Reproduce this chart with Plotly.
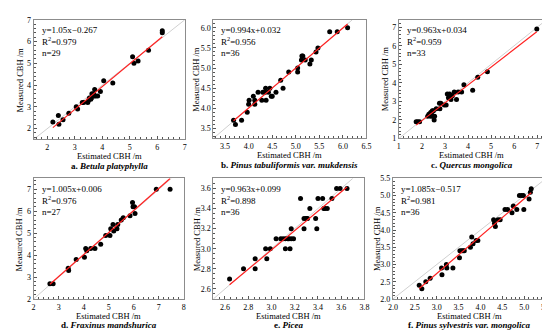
import plotly.graph_objects as go

# ---------------- data ----------------
a_est = [2.2, 2.4, 2.42, 2.57, 2.78, 3.05, 3.1, 3.27, 3.32, 3.47, 3.5, 3.53, 3.58, 3.6, 3.62,
         3.68, 3.7, 3.72, 3.76, 3.83, 3.93, 4.05, 4.38, 5.1, 5.15, 5.3, 5.68, 6.18, 6.18]
a_meas = [2.3, 2.6, 2.2, 2.4, 2.7, 3.0, 2.9, 3.2, 3.2, 3.2, 3.3, 3.4, 3.35, 3.4, 3.6,
          3.6, 3.5, 3.8, 3.5, 3.5, 3.7, 4.2, 4.1, 5.3, 5.0, 5.1, 5.6, 6.5, 6.4]

b_est = [3.68, 3.72, 3.85, 3.97, 4.0, 4.01, 4.1, 4.13, 4.13, 4.2, 4.28, 4.3, 4.35, 4.36, 4.37,
         4.42, 4.45, 4.48, 4.5, 4.58, 4.68, 4.73, 4.85, 5.04, 5.04, 5.12, 5.13, 5.15, 5.2, 5.3,
         5.33, 5.43, 5.47, 5.72, 5.88, 6.1]
b_meas = [3.7, 3.6, 3.7, 3.9, 4.1, 4.2, 4.3, 4.2, 4.1, 4.4, 4.2, 4.4, 4.4, 4.5, 4.2,
          4.4, 4.5, 4.3, 4.3, 4.4, 4.7, 4.5, 4.9, 4.9, 5.0, 5.2, 5.3, 5.3, 5.2, 5.1,
          5.2, 5.4, 5.5, 5.9, 5.9, 6.0]

c_est = [1.75, 1.82, 1.9, 2.25, 2.3, 2.38, 2.42, 2.45, 2.5, 2.38, 2.47, 2.55, 2.53, 2.62, 2.78,
         2.76, 2.82, 2.97, 3.05, 3.1, 3.15, 3.2, 3.26, 3.32, 3.4, 3.5, 3.57, 3.72, 3.82, 4.2,
         4.42, 4.84, 6.98]
c_meas = [1.9, 1.9, 1.9, 2.2, 2.3, 2.4, 2.4, 2.5, 2.5, 2.2, 2.2, 2.2, 2.0, 2.6, 2.6,
          2.9, 2.9, 2.8, 2.8, 3.4, 3.2, 3.4, 3.1, 3.3, 3.5, 3.1, 3.5, 3.5, 3.9, 3.6,
          4.3, 4.6, 6.9]

d_est = [2.65, 2.78, 3.38, 3.4, 3.7, 4.03, 4.08, 4.12, 4.28, 4.45, 4.68, 4.88, 5.05, 5.08, 5.17,
         5.2, 5.33, 5.36, 5.5, 5.58, 5.85, 5.95, 5.97, 6.03, 6.05, 6.9, 7.45]
d_meas = [2.7, 2.7, 3.4, 3.3, 3.8, 3.9, 4.3, 4.2, 4.3, 4.3, 4.5, 4.9, 4.9, 5.2, 5.4,
          5.1, 5.2, 5.4, 5.6, 5.7, 5.8, 6.4, 6.2, 6.2, 5.9, 7.0, 7.0]

e_est = [2.64, 2.76, 2.86, 2.86, 2.96, 2.95, 2.99, 3.12, 3.16, 3.04, 3.08, 3.1, 3.12, 3.14, 3.15,
         3.17, 3.19, 3.17, 3.28, 3.39, 3.28, 3.3, 3.3, 3.31, 3.38, 3.33, 3.45, 3.46, 3.48, 3.25,
         3.4, 3.44, 3.52, 3.56, 3.59, 3.65]
e_meas = [2.7, 2.8, 2.8, 2.9, 2.9, 3.0, 3.0, 3.0, 3.0, 3.1, 3.1, 3.1, 3.1, 3.1, 3.1,
          3.1, 3.1, 3.2, 3.2, 3.2, 3.3, 3.3, 3.3, 3.3, 3.3, 3.4, 3.4, 3.4, 3.4, 3.5,
          3.5, 3.5, 3.5, 3.6, 3.6, 3.6]

f_est = [2.6, 2.66, 2.75, 2.85, 3.11, 3.12, 3.22, 3.23, 3.37, 3.52, 3.53, 3.57, 3.6, 3.63, 3.77,
         3.8, 3.83, 3.9, 3.94, 4.3, 4.32, 4.34, 4.4, 4.45, 4.56, 4.62, 4.72, 4.75, 4.83, 4.89,
         4.94, 4.98, 4.99, 5.11, 5.14, 5.16]
f_meas = [2.4, 2.3, 2.5, 2.6, 2.9, 2.7, 3.0, 2.9, 2.9, 3.2, 3.4, 3.4, 3.4, 3.4, 3.5,
          3.8, 3.6, 3.7, 3.7, 4.3, 4.2, 4.1, 4.3, 4.3, 4.6, 4.6, 4.5, 4.7, 4.6, 5.0,
          5.0, 5.0, 4.6, 4.9, 5.1, 5.2]

slopes = [1.05, 0.994, 0.963, 1.005, 0.963, 1.085]
intercepts = [-0.267, 0.032, 0.034, 0.006, 0.099, -0.517]
r2_labels = ["0.979", "0.956", "0.959", "0.976", "0.898", "0.981"]
eq_labels = ["y=1.05x−0.267", "y=0.994x+0.032", "y=0.963x+0.034",
             "y=1.005x+0.006", "y=0.963x+0.099", "y=1.085x−0.517"]
panel_letters = ["a.", "b.", "c.", "d.", "e.", "f."]
species = ["Betula platyphylla", "Pinus tabuliformis", "Quercus mongolica",
           "Fraxinus mandshurica", "Picea", "Pinus sylvestris"]
species_suffix = ["", " var. mukdensis", "", "", "", " var. mongolica"]
x_title = "Estimated CBH /m"
y_title = "Measured CBH /m"

est_all = [a_est, b_est, c_est, d_est, e_est, f_est]
meas_all = [a_meas, b_meas, c_meas, d_meas, e_meas, f_meas]

# ---------------- layout geometry (pixels) ----------------
W, H = 550, 332
boxes = [(21, 175, 8, 131), (204, 360, 8, 130), (393, 541, 8, 130),
         (21, 174, 171, 295), (204, 358, 171, 295), (387, 543, 171, 295)]
ytitle_x = [7, 187, 379, 6, 187, 370]
xranges = [[1.5, 7], [3.25, 6.5], [1, 7.3], [2, 8], [2.5, 3.8], [2.0, 5.5]]
yranges = [[1.5, 7], [3.25, 6.2], [1, 7.4], [2, 7.5], [2.5, 3.7], [2.0, 5.5]]
dticks = [1, 0.5, 1, 1, 0.2, 0.5]
tfmt = ["d", ".1f", "d", "d", ".1f", ".1f"]
x0s = [2, 3.5, 1, 2, 2.6, 2.0]
y0s = [2, 3.5, 1, 2, 2.6, 2.0]

FONT = "Liberation Serif, Times New Roman, serif"
fig = go.Figure()

for i in range(6):
    n = i + 1
    xa = "x" if n == 1 else f"x{n}"
    ya = "y" if n == 1 else f"y{n}"
    xmin, xmax = min(est_all[i]), max(est_all[i])
    lo = max(xranges[i][0], yranges[i][0])
    hi = min(xranges[i][1], yranges[i][1])
    # 1:1 line
    fig.add_trace(go.Scatter(x=[lo, hi], y=[lo, hi], mode="lines",
                             line=dict(color="#d0d0d0", width=1),
                             xaxis=xa, yaxis=ya, showlegend=False, hoverinfo="skip"))
    # points
    fig.add_trace(go.Scatter(x=est_all[i], y=meas_all[i], mode="markers",
                             marker=dict(color="black", size=5),
                             xaxis=xa, yaxis=ya, showlegend=False))
    # regression line
    fig.add_trace(go.Scatter(x=[xmin, xmax],
                             y=[slopes[i] * xmin + intercepts[i], slopes[i] * xmax + intercepts[i]],
                             mode="lines", line=dict(color="#ff2020", width=1.2),
                             xaxis=xa, yaxis=ya, showlegend=False))

    l, r, t, b = boxes[i]
    axis_common = dict(showline=True, linecolor="#8c8c8c", linewidth=1, mirror=True,
                       showgrid=False, zeroline=False, ticks="inside", ticklen=3,
                       tickcolor="#555555", tickwidth=1,
                       tickfont=dict(family=FONT, size=8, color="black"),
                       minor=dict(ticks="inside", ticklen=2, tickcolor="#555555"))
    fig.layout[f"xaxis{'' if n == 1 else n}"] = dict(
        axis_common, domain=[l / W, r / W], range=xranges[i], anchor=ya,
        tick0=x0s[i], dtick=dticks[i], tickformat=tfmt[i])
    fig.layout[f"yaxis{'' if n == 1 else n}"] = dict(
        axis_common, domain=[1 - b / H, 1 - t / H], range=yranges[i], anchor=xa,
        tick0=y0s[i], dtick=dticks[i], tickformat=tfmt[i])

    # stats box
    fig.add_annotation(xref=f"{xa} domain", yref=f"{ya} domain", x=0.04, y=0.97,
                       xanchor="left", yanchor="top", align="left", showarrow=False,
                       text=f"{eq_labels[i]}<br>R<sup>2</sup>={r2_labels[i]}<br>n={len(est_all[i])}",
                       font=dict(family=FONT, size=9, color="black"))
    # axis titles
    xt_y = b + 17
    fig.add_annotation(xref="paper", yref="paper", x=((l + r) / 2) / W, y=1 - xt_y / H,
                       xanchor="center", yanchor="middle", showarrow=False, text=x_title,
                       font=dict(family=FONT, size=8.5, color="black"))
    fig.add_annotation(xref="paper", yref="paper", x=ytitle_x[i] / W, y=1 - ((t + b) / 2) / H,
                       xanchor="center", yanchor="middle", showarrow=False, text=y_title,
                       textangle=-90, font=dict(family=FONT, size=8.5, color="black"))
    # caption
    cap_y = b + 27
    fig.add_annotation(xref="paper", yref="paper", x=((l + r) / 2) / W, y=1 - cap_y / H,
                       xanchor="center", yanchor="middle", showarrow=False,
                       text=f"<b>{panel_letters[i]} <i>{species[i]}{species_suffix[i]}</i></b>",
                       font=dict(family=FONT, size=9, color="black"))

fig.update_layout(width=W, height=H, margin=dict(l=0, r=0, t=0, b=0),
                  paper_bgcolor="white", plot_bgcolor="white")
fig.write_html("out.html")
